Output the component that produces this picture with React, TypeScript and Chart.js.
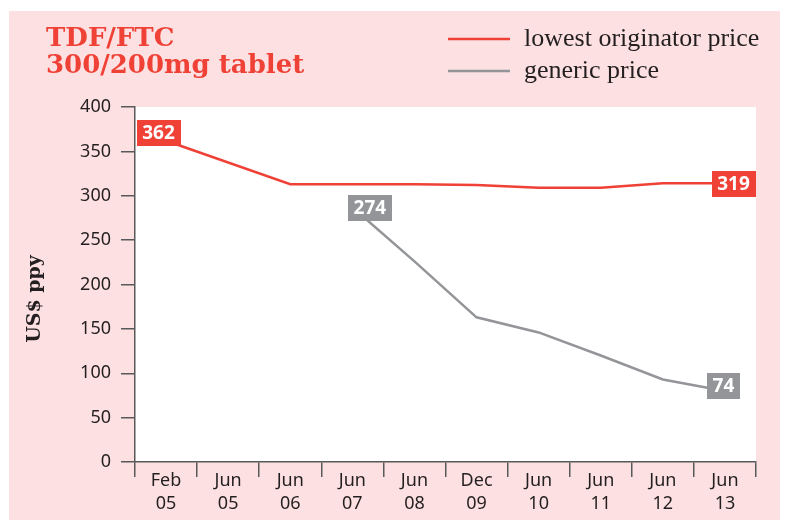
import React, { useEffect, useRef } from 'react';
import { Chart, registerables } from 'chart.js';

Chart.register(...registerables);

// ---- data ----
const categories: string[][] = [
  ['Feb', '05'], ['Jun', '05'], ['Jun', '06'], ['Jun', '07'], ['Jun', '08'],
  ['Dec', '09'], ['Jun', '10'], ['Jun', '11'], ['Jun', '12'], ['Jun', '13'],
];
const originatorPrice: (number | null)[] = [362, null, 313, 313, 313, 312, 309, 309, 314, 314];
const genericPrice: (number | null)[] = [null, null, null, 287, 226, 163, 146, 120, 93, 80];
const yTickValues: number[] = [0, 50, 100, 150, 200, 250, 300, 350, 400];
const seriesNames: string[] = ['lowest originator price', 'generic price'];
const titleLines: string[] = ['TDF/FTC', '300/200mg tablet'];
const yAxisTitle = 'US$ ppy';
const originatorTagIndex: number[] = [0, 9];
const originatorTagText: string[] = ['362', '319'];
const genericTagIndex: number[] = [3, 9];
const genericTagText: string[] = ['274', '74'];

// ---- style ----
const RED = '#EF4136';
const GREY = '#939598';
const PINK = '#FDE0E1';
const AXIS = '#58595B';
const TEXT = '#231F20';

// offsets of tag boxes relative to their point (style only)
const tagOffsets = [
  [[-7.5, -7.7], [8.5, 0.7]],
  [[17.5, 0.7], [-1.5, -5]],
];

const decorPlugin = {
  id: 'decor',
  beforeDraw(chart: any) {
    const { ctx, chartArea } = chart;
    ctx.save();
    ctx.fillStyle = '#ffffff';
    ctx.fillRect(chartArea.left, chartArea.top, chartArea.right - chartArea.left, chartArea.bottom - chartArea.top);
    ctx.restore();
  },
  afterDraw(chart: any) {
    const { ctx } = chart;
    ctx.save();
    // title
    ctx.fillStyle = RED;
    ctx.font = 'bold 26px "DejaVu Serif"';
    ctx.textAlign = 'left';
    ctx.textBaseline = 'alphabetic';
    ctx.fillText(titleLines[0], 37, 35);
    ctx.fillText(titleLines[1], 37, 62);

    // legend
    const legendY = [28, 60];
    const colors = [RED, GREY];
    for (let i = 0; i < 2; i++) {
      ctx.strokeStyle = colors[i];
      ctx.lineWidth = 2.5;
      ctx.beginPath();
      ctx.moveTo(439, legendY[i]);
      ctx.lineTo(501, legendY[i]);
      ctx.stroke();
      ctx.fillStyle = TEXT;
      ctx.font = '26px "Liberation Serif"';
      ctx.fillText(chart.data.datasets[i].label, 515, legendY[i] + 7);
    }

    // y axis title
    ctx.save();
    ctx.translate(26, 288);
    ctx.rotate(-Math.PI / 2);
    ctx.font = 'bold 19px "DejaVu Serif"';
    ctx.fillStyle = TEXT;
    ctx.textAlign = 'center';
    ctx.textBaseline = 'middle';
    ctx.fillText(yAxisTitle, 0, 0);
    ctx.restore();

    // tags
    const tagSets = [
      { idx: originatorTagIndex, text: originatorTagText, color: RED },
      { idx: genericTagIndex, text: genericTagText, color: GREY },
    ];
    ctx.font = 'bold 19px "Noto Sans"';
    ctx.textAlign = 'center';
    ctx.textBaseline = 'middle';
    tagSets.forEach((set, d) => {
      const meta = chart.getDatasetMeta(d);
      set.idx.forEach((pi, k) => {
        const el = meta.data[pi];
        if (!el) return;
        const cx = el.x + tagOffsets[d][k][0];
        const cy = el.y + tagOffsets[d][k][1];
        const w = ctx.measureText(set.text[k]).width + 11;
        const h = 26;
        ctx.fillStyle = set.color;
        ctx.fillRect(Math.round(cx - w / 2), Math.round(cy - h / 2), Math.round(w), h);
        ctx.fillStyle = '#ffffff';
        ctx.fillText(set.text[k], cx, cy + 1);
      });
    });
    ctx.restore();
  },
};

export default function App() {
  const ref = useRef<HTMLCanvasElement | null>(null);
  useEffect(() => {
    if (!ref.current) return;
    const chart = new Chart(ref.current, {
      type: 'line',
      data: {
        labels: categories as any,
        datasets: [
          {
            label: seriesNames[0],
            data: originatorPrice,
            borderColor: RED,
            borderWidth: 2.5,
            pointRadius: 0,
            spanGaps: true,
            tension: 0,
          },
          {
            label: seriesNames[1],
            data: genericPrice,
            borderColor: GREY,
            borderWidth: 2.5,
            pointRadius: 0,
            spanGaps: true,
            tension: 0,
          },
        ],
      },
      options: {
        responsive: false,
        animation: false,
        devicePixelRatio: 1,
        layout: { padding: { top: 96, right: 24, left: 0, bottom: 0 } },
        plugins: {
          legend: { display: false },
          title: { display: false },
          tooltip: { enabled: false },
        },
        scales: {
          x: {
            type: 'category',
            offset: true,
            grid: {
              offset: true,
              drawOnChartArea: false,
              drawTicks: true,
              tickLength: 15,
              color: AXIS,
              lineWidth: 1.5,
            },
            border: { display: true, color: AXIS, width: 1.5 },
            ticks: {
              color: TEXT,
              font: { family: '"Noto Sans"', size: 18, lineHeight: 1.28 },
              padding: -8,
              maxRotation: 0,
              autoSkip: false,
            },
            afterFit(scale: any) {
              scale.height = 58;
            },
          },
          y: {
            min: 0,
            max: 400,
            afterBuildTicks(scale: any) {
              scale.ticks = yTickValues.map((v) => ({ value: v }));
            },
            grid: {
              drawOnChartArea: false,
              drawTicks: true,
              tickLength: 14,
              color: AXIS,
              lineWidth: 1.5,
            },
            border: { display: true, color: AXIS, width: 1.5 },
            ticks: {
              color: TEXT,
              font: { family: '"Noto Sans"', size: 18 },
              padding: 10,
            },
            afterFit(scale: any) {
              scale.width = 126;
            },
          },
        },
      },
      plugins: [decorPlugin],
    });
    return () => chart.destroy();
  }, []);
  return (
    <div style={{ position: 'absolute', left: 9, top: 11, width: 771, height: 509, background: PINK }}>
      <canvas ref={ref} width={771} height={509} style={{ display: 'block' }} />
    </div>
  );
}
